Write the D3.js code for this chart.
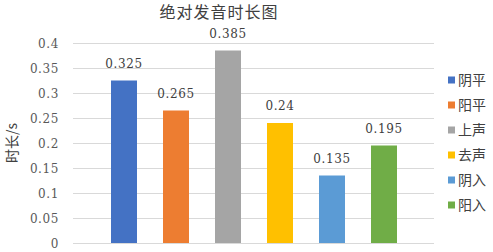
<!DOCTYPE html>
<html><head><meta charset="utf-8">
<script src="https://cdn.jsdelivr.net/npm/d3@7"></script>
<style>
html,body{margin:0;padding:0;background:#fff;}
svg{display:block;}
</style></head>
<body>
<script>
const title = "绝对发音时长图";
const yTitle = "时长/s";
const series = ["阴平","阳平","上声","去声","阴入","阳入"];
const values = [0.325,0.265,0.385,0.24,0.135,0.195];
const valueLabels = ["0.325","0.265","0.385","0.24","0.135","0.195"];
const colors = ["#4472C4","#ED7D31","#A5A5A5","#FFC000","#5B9BD5","#70AD47"];
const yTicks = [0,0.05,0.1,0.15,0.2,0.25,0.3,0.35,0.4];
const yTickLabels = ["0","0.05","0.1","0.15","0.2","0.25","0.3","0.35","0.4"];

const W = 493, H = 252;
const svg = d3.select("body").append("svg").attr("width",W).attr("height",H);
const plot = {left:73, right:434, top:43, bottom:243};
const serif = "'DejaVu Serif', serif";
const cjk = "'Noto Sans CJK SC', sans-serif";

const y = d3.scaleLinear().domain([0,0.4]).range([plot.bottom, plot.top]);
const x = d3.scaleBand().domain(series).range([98,410]).paddingInner(0.5).paddingOuter(0.25);

// gridlines
svg.append("g").selectAll("line").data(yTicks).join("line")
  .attr("x1",plot.left).attr("x2",plot.right)
  .attr("y1",d=>Math.round(y(d))+0.5).attr("y2",d=>Math.round(y(d))+0.5)
  .attr("stroke","#D9D9D9").attr("stroke-width",1);

// y tick labels
svg.append("g").selectAll("text").data(yTicks).join("text")
  .attr("x",59).attr("y",d=>y(d)+4.5)
  .attr("text-anchor","end")
  .style("font-family",serif).style("font-size","12px").style("letter-spacing","0.6px")
  .attr("fill","#595959")
  .text((d,i)=>yTickLabels[i]);

// bars
svg.append("g").selectAll("rect").data(values).join("rect")
  .attr("x",(d,i)=>x(series[i])).attr("width",x.bandwidth())
  .attr("y",d=>y(d)).attr("height",d=>y(0)-y(d))
  .attr("fill",(d,i)=>colors[i]);

// data labels
svg.append("g").selectAll("text").data(values).join("text")
  .attr("x",(d,i)=>x(series[i])+x.bandwidth()/2).attr("y",d=>y(d)-13)
  .attr("text-anchor","middle")
  .style("font-family",serif).style("font-size","12px").style("letter-spacing","0.6px")
  .attr("fill","#404040")
  .text((d,i)=>valueLabels[i]);

// title
svg.append("text").attr("x",219).attr("y",18).attr("text-anchor","middle")
  .style("font-family",cjk).style("font-size","16px").style("letter-spacing","1px")
  .attr("fill","#404040").text(title);

// y axis title
svg.append("text").attr("transform","translate(17,143) rotate(-90)")
  .attr("text-anchor","middle")
  .style("font-family",cjk).style("font-size","14px")
  .attr("fill","#404040").text(yTitle);

// legend
const leg = svg.append("g").selectAll("g").data(series).join("g")
  .attr("transform",(d,i)=>`translate(448,${80+i*25})`);
leg.append("rect").attr("x",0).attr("y",-3.5).attr("width",7).attr("height",7)
  .attr("fill",(d,i)=>colors[i]);
leg.append("text").attr("x",10).attr("y",5)
  .style("font-family",cjk).style("font-size","14px")
  .attr("fill","#404040").text(d=>d);
</script>
</body></html>
